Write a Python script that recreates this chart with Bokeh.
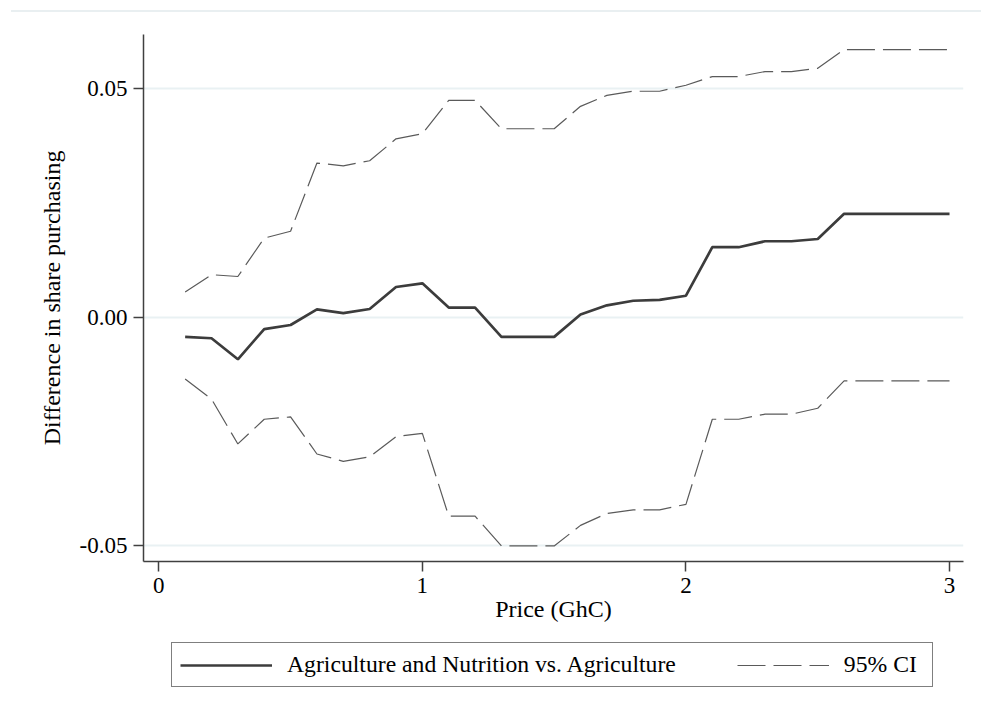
from bokeh.plotting import figure
from bokeh.models import Range1d, FixedTicker, NumeralTickFormatter, Legend, LegendItem, Div
from bokeh.layouts import column
from bokeh.embed import file_html
from bokeh.resources import INLINE

# ---- data ----
price = [0.1, 0.2, 0.3, 0.4, 0.5, 0.6, 0.7, 0.8, 0.9, 1.0,
         1.1, 1.2, 1.3, 1.4, 1.5, 1.6, 1.7, 1.8, 1.9, 2.0,
         2.1, 2.2, 2.3, 2.4, 2.5, 2.6, 2.7, 2.8, 2.9, 3.0]
diff = [-0.0043, -0.0046, -0.0092, -0.0026, -0.0017, 0.0017, 0.0009, 0.0018, 0.0066, 0.0074,
        0.0021, 0.0021, -0.0043, -0.0043, -0.0043, 0.0006, 0.0026, 0.0036, 0.0038, 0.0047,
        0.0153, 0.0153, 0.0166, 0.0166, 0.0171, 0.0226, 0.0226, 0.0226, 0.0226, 0.0226]
ci_upper = [0.0055, 0.0093, 0.0089, 0.0173, 0.0188, 0.0337, 0.0331, 0.0342, 0.0390, 0.0401,
            0.0474, 0.0474, 0.0412, 0.0412, 0.0412, 0.0461, 0.0485, 0.0494, 0.0494, 0.0507,
            0.0526, 0.0526, 0.0537, 0.0537, 0.0544, 0.0585, 0.0585, 0.0585, 0.0585, 0.0585]
ci_lower = [-0.0135, -0.0179, -0.0277, -0.0223, -0.0218, -0.0299, -0.0315, -0.0305, -0.0261, -0.0254,
            -0.0435, -0.0435, -0.0500, -0.0500, -0.0500, -0.0455, -0.0429, -0.0421, -0.0421, -0.0409,
            -0.0223, -0.0223, -0.0212, -0.0212, -0.0199, -0.0139, -0.0139, -0.0139, -0.0139, -0.0139]
x_ticks = [0, 1, 2, 3]
y_ticks = [-0.05, 0.0, 0.05]
x_title = "Price (GhC)"
y_title = "Difference in share purchasing"
series_label = "Agriculture and Nutrition vs. Agriculture"
ci_label = "95% CI"

FONT = "Liberation Serif"
AXIS_COL = "#404040"
MAIN_STYLE = dict(line_color="#3c3c3c", line_width=2.7)
CI_STYLE = dict(line_color="#5a5a5a", line_width=1.2, line_dash="28 8")

# ---- faint outer border line at the top ----
strip = Div(text="", width=970, height=7,
            styles={"margin-left": "11px", "border-bottom": "2px solid #e9eff1"})

# ---- main plot ----
p = figure(width=981, height=621, output_backend="svg", toolbar_location=None,
           x_range=Range1d(-0.058, 3.053), y_range=Range1d(-0.0534, 0.0618),
           min_border_left=143, min_border_right=18, min_border_top=17, min_border_bottom=77)
p.outline_line_color = None
p.background_fill_color = "white"
p.border_fill_color = "white"

p.xgrid.grid_line_color = None
p.ygrid.grid_line_color = "#e9f1f3"
p.ygrid.grid_line_width = 2
p.ygrid.ticker = FixedTicker(ticks=y_ticks)

for ax in (p.xaxis[0], p.yaxis[0]):
    ax.axis_line_color = AXIS_COL
    ax.axis_line_width = 1.5
    ax.major_tick_line_color = AXIS_COL
    ax.major_tick_line_width = 1.5
    ax.major_tick_out = 10
    ax.major_tick_in = 0
    ax.minor_tick_line_color = None
    ax.major_label_text_font = FONT
    ax.major_label_text_font_size = "23px"
    ax.major_label_text_color = "black"
    ax.axis_label_text_font = FONT
    ax.axis_label_text_font_size = "24px"
    ax.axis_label_text_font_style = "normal"
    ax.axis_label_text_color = "black"

p.xaxis.ticker = FixedTicker(ticks=x_ticks)
p.yaxis.ticker = FixedTicker(ticks=y_ticks)
p.yaxis.formatter = NumeralTickFormatter(format="0.00")
p.xaxis.axis_label = x_title
p.yaxis.axis_label = y_title
p.xaxis.major_label_standoff = 6
p.yaxis.major_label_standoff = 6
p.xaxis.axis_label_standoff = 0
p.yaxis.axis_label_standoff = 12

p.line(price, ci_upper, **CI_STYLE)
p.line(price, ci_lower, **CI_STYLE)
p.line(price, diff, **MAIN_STYLE)

# ---- legend panel (its frame is aligned with the main frame by the column) ----
lg = figure(width=981, height=79, output_backend="svg", toolbar_location=None,
            min_border_left=143, min_border_right=18, min_border_top=0, min_border_bottom=0,
            x_range=Range1d(100, 101), y_range=Range1d(100, 101))
lg.axis.visible = False
lg.grid.visible = False
lg.outline_line_color = None
lg.background_fill_color = "white"
lg.border_fill_color = "white"
# same series, kept out of this panel's view: only their legend swatches show
r_main = lg.line(price, diff, **MAIN_STYLE)
r_ci = lg.line(price, ci_upper, **CI_STYLE)

legend = Legend(items=[LegendItem(label=series_label, renderers=[r_main]),
                       LegendItem(label=ci_label, renderers=[r_ci])],
                orientation="horizontal", location=(28, 30),
                glyph_width=92, glyph_height=24, label_standoff=15, spacing=61,
                label_width=80, padding=8, margin=0,
                label_text_font=FONT, label_text_font_size="23.7px", label_text_color="black",
                border_line_color="black", border_line_width=1.1,
                background_fill_color="white", background_fill_alpha=1.0)
lg.add_layout(legend, "center")

layout = column(strip, p, lg, spacing=0)
open("out.html", "w").write(file_html(layout, INLINE))
